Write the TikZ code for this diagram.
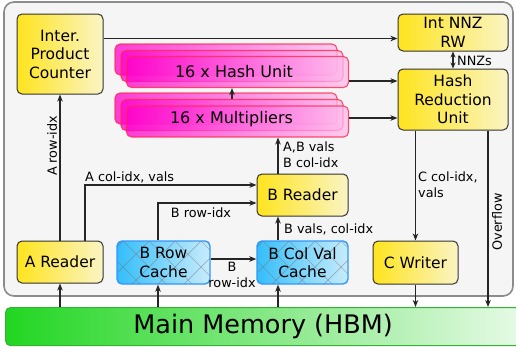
\documentclass[tikz,border=0pt]{standalone}
\usepackage{fontspec}
\setmainfont{DejaVu Sans}
\usetikzlibrary{arrows.meta,calc}

\definecolor{ylwL}{RGB}{255,228,30}
\definecolor{ylwR}{RGB}{250,244,196}
\definecolor{bluL}{RGB}{52,190,250}
\definecolor{bluR}{RGB}{200,236,252}
\definecolor{bluD}{RGB}{50,150,250}
\definecolor{grnL}{RGB}{34,214,34}
\definecolor{grnR}{RGB}{230,250,230}
\definecolor{grnD}{RGB}{50,180,50}
\definecolor{magL}{RGB}{255,0,204}
\definecolor{magR}{RGB}{255,190,236}
\definecolor{magD}{RGB}{255,40,80}
\definecolor{frameD}{RGB}{140,140,140}
\definecolor{frameF}{RGB}{245,245,245}

\tikzset{
  boxtext/.style={font=\fontsize{15.5}{18.5}\selectfont, align=center, inner sep=0pt},
  ybox/.style={boxtext, draw=black!80, line width=1pt, rounded corners=5pt,
               left color=ylwL, right color=ylwR},
  cachebox/.style={boxtext, draw=bluD, line width=1.4pt, rounded corners=5pt,
               left color=bluL, right color=bluR,
               path picture={
                 \foreach \k in {-3,...,6}{
                   \draw[hatchline] ([xshift=\k*26pt+6pt]path picture bounding box.north west) -- ++(50pt,-50pt);
                   \draw[hatchline] ([xshift=\k*26pt+6pt]path picture bounding box.north west) -- ++(-50pt,-50pt);
                 }}},
  hatchline/.style={draw=black!55, line width=0.7pt, opacity=0.5},
  layer/.style={draw=magD, line width=1.1pt, draw opacity=0.8, rounded corners=5pt,
               left color=magL, right color=magR, fill opacity=0.75,
               minimum width=222pt, minimum height=31pt, inner sep=0pt,
               text opacity=1, font=\fontsize{16}{19}\selectfont},
  lbl/.style={font=\fontsize{12.8}{16}\selectfont, inner sep=0pt},
  arr/.style={draw=black!85, line width=1.1pt, -{Stealth[length=7pt,width=5.5pt,inset=2pt]}},
}

\begin{document}
\begin{tikzpicture}[x=1pt,y=-1pt]
\useasboundingbox (0,0) rectangle (516,348);

% enclosing accelerator frame
\draw[draw=frameD, fill=frameF, line width=1.6pt, rounded corners=10pt] (4,2) rectangle (513,296);

% main memory
\node[draw=grnD, line width=1.2pt, rounded corners=5pt, left color=grnL, right color=grnR,
      minimum width=515pt, minimum height=38pt, anchor=north west, inner sep=0pt,
      font=\fontsize{25.5}{30}\selectfont] (mem) at (5,307) {Main Memory (HBM)};

% processing blocks
\node[ybox, minimum width=86pt, minimum height=80pt] (ipc) at (60,54) {Inter.\\Product\\Counter};
\node[ybox, minimum width=110pt, minimum height=37pt] (nnz) at (453,32.5) {Int NNZ\\RW};
\node[ybox, minimum width=110pt, minimum height=61pt] (hru) at (453,99.5) {Hash\\Reduction\\Unit};
\node[ybox, minimum width=91pt, minimum height=42pt] (brd) at (302.5,195) {B Reader};
\node[ybox, minimum width=86pt, minimum height=42pt] (ar) at (60,262) {A Reader};
\node[ybox, minimum width=85pt, minimum height=43pt] (cw) at (415.5,262.5) {C Writer};
\node[cachebox, minimum width=93pt, minimum height=43pt] (brc) at (163.5,262.5) {B Row\\Cache};
\node[cachebox, minimum width=91pt, minimum height=43pt] (bcv) at (302.5,262.5) {B Col Val\\Cache};

% stacked hash units
\node[layer] (hashA) at (226,59.5) {};
\node[layer] (hashB) at (232,66) {};
\node[layer] (hashC) at (237.5,72) {};
\node[font=\fontsize{16}{19}\selectfont, inner sep=0pt] (hashT) at (234,72) {16 x Hash Unit};

% stacked multipliers
\node[layer] (multA) at (226,108.5) {};
\node[layer] (multB) at (232,115) {};
\node[layer] (multC) at (237.5,121.5) {};
\node[font=\fontsize{16}{19}\selectfont, inner sep=0pt] (multT) at (231.5,119) {16 x Multipliers};

% connector end points
\coordinate (ipcout) at ([yshift=-25pt]ipc.north east);
\coordinate (hashout) at ([yshift=-9pt]hashC.east);
\coordinate (multout) at ([yshift=3.5pt]multC.east);
\coordinate (brdtop) at ([xshift=-24.5pt]brd.north);
\coordinate (brdbot) at ([xshift=-24.5pt]brd.south);
\coordinate (bcvtop) at ([xshift=-24.5pt]bcv.north);
\coordinate (bcvbot) at ([xshift=-24.5pt]bcv.south);
\coordinate (arcol) at ([xshift=25pt]ar.north);
\coordinate (brctop) at ([xshift=-5.5pt]brc.north);
\coordinate (brcbot) at ([xshift=-5.5pt]brc.south);
\coordinate (brcout) at ([yshift=3.5pt]brc.east);
\coordinate (bcvin) at ([yshift=3.5pt]bcv.west);
\coordinate (ovf) at ([xshift=35pt]hru.south);

% data paths
\draw[arr] (ipcout) -- (ipcout -| nnz.west);
\draw[arr] (hashout) -- (hashout -| hru.west);
\draw[arr] (multout) -- (multout -| hru.west);
\draw[arr] (multB.north) -- (multB.north |- hashC.south);
\draw[draw=black!85, line width=1.1pt, {Stealth[length=6pt,width=5pt,inset=2pt]}-{Stealth[length=6pt,width=5pt,inset=2pt]}] (nnz.south) -- (hru.north);
\draw[arr] (brdtop) -- (brdtop |- multC.south);
\draw[arr] (ar.north) -- (ipc.south);
\draw[arr] (arcol) |- ([yshift=10pt]brd.west);
\draw[arr] (brctop) |- ([yshift=-8pt]brd.west);
\draw[arr, line width=2pt] (brcout) -- (bcvin);
\draw[arr] (bcvtop) -- (brdbot);
\draw[arr] (cw.north |- hru.south) -- (cw.north);
\draw[arr] (ovf) -- (ovf |- mem.north);
\draw[arr] (cw.south) -- (cw.south |- mem.north);
\draw[arr] (ar.south |- mem.north) -- (ar.south);
\draw[arr] (brcbot |- mem.north) -- (brcbot);
\draw[arr] (bcvbot |- mem.north) -- (bcvbot);

% labels
\node[lbl, rotate=90] (lArow) at (52,146) {A row-idx};
\node[lbl, anchor=west] (lAcol) at (85,177) {A col-idx, vals};
\node[lbl] (lBrow) at (201,213) {B row-idx};
\node[lbl, align=center] (lBrow2) at (232,275) {B\\row-idx};
\node[lbl, align=left, anchor=west] (lABv) at (283,155) {A,B vals\\B col-idx};
\node[lbl, anchor=west] (lBv) at (284,229) {B vals, col-idx};
\node[lbl, align=left, anchor=west] (lC) at (418,185) {C col-idx,\\vals};
\node[lbl, rotate=90] (lOvf) at (497,222) {Overflow};
\node[lbl, anchor=west] (lNNZ) at (457,61) {NNZs};
\end{tikzpicture}
\end{document}
